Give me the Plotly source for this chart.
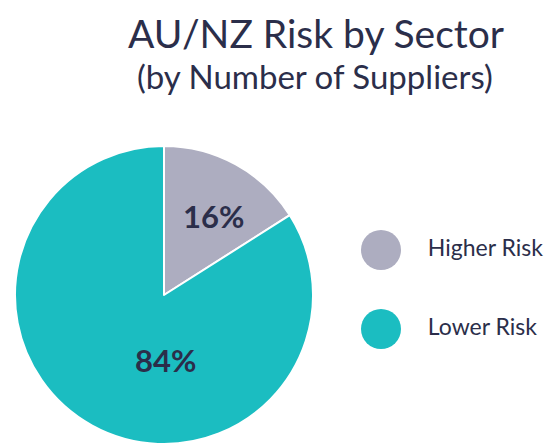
import plotly.graph_objects as go

# Data
labels = ['Higher Risk', 'Lower Risk']
values = [16, 84]
colors = ['#adadc0', '#1bbdc1']

TEXT = '#2b2e4a'
FONT = 'Lato'

# Figure is drawn inside the page's 8px body margin, so keep it a bit smaller
W, H = 544, 436

total = sum(values)
pct = [f"{round(100 * v / total)}%" for v in values]

fig = go.Figure()

# Pie
fig.add_trace(go.Pie(
    labels=labels,
    values=values,
    sort=False,
    direction='clockwise',
    rotation=0,
    marker=dict(colors=colors, line=dict(color='white', width=2)),
    textinfo='none',
    domain=dict(x=[5 / W, 307 / W], y=[0, 1 - 138 / H]),
    showlegend=False,
    hoverinfo='label+percent',
))

# Custom legend with big round markers
fig.add_trace(go.Scatter(
    x=[0, 0],
    y=[1, 0],
    mode='markers',
    marker=dict(size=40, color=colors),
    showlegend=False,
    hoverinfo='skip',
))
fig.add_trace(go.Scatter(
    x=[1.17, 1.17],
    y=[1, 0],
    mode='text',
    text=labels,
    textposition='middle right',
    textfont=dict(family=FONT, size=23, color=TEXT),
    showlegend=False,
    hoverinfo='skip',
))

fig.update_layout(
    width=W,
    height=H,
    margin=dict(l=0, r=0, t=0, b=0),
    paper_bgcolor='white',
    plot_bgcolor='white',
    xaxis=dict(domain=[333 / W, 1], range=[-1, (544 - 373) / 40], visible=False, fixedrange=True),
    yaxis=dict(domain=[1 - 360.5 / H, 1 - 202.5 / H], range=[-0.5, 1.5], visible=False, fixedrange=True),
    annotations=[
        dict(text='AU/NZ Risk by Sector', x=308 / W, y=1,
             xref='paper', yref='paper', xanchor='center', yanchor='top',
             showarrow=False, font=dict(family=FONT, size=39, color=TEXT)),
        dict(text='(by Number of Suppliers)', x=307 / W, y=1 - 68 / H,
             xref='paper', yref='paper', xanchor='center', yanchor='middle',
             showarrow=False, font=dict(family=FONT, size=33, color=TEXT)),
        # slice labels
        dict(text=pct[0], x=205 / W, y=1 - 208 / H,
             xref='paper', yref='paper', xanchor='center', yanchor='middle',
             showarrow=False, font=dict(family=FONT, size=31, color=TEXT, weight='bold')),
        dict(text=pct[1], x=157 / W, y=1 - 352 / H,
             xref='paper', yref='paper', xanchor='center', yanchor='middle',
             showarrow=False, font=dict(family=FONT, size=31, color=TEXT, weight='bold')),
    ],
)

fig.write_html("out.html")
